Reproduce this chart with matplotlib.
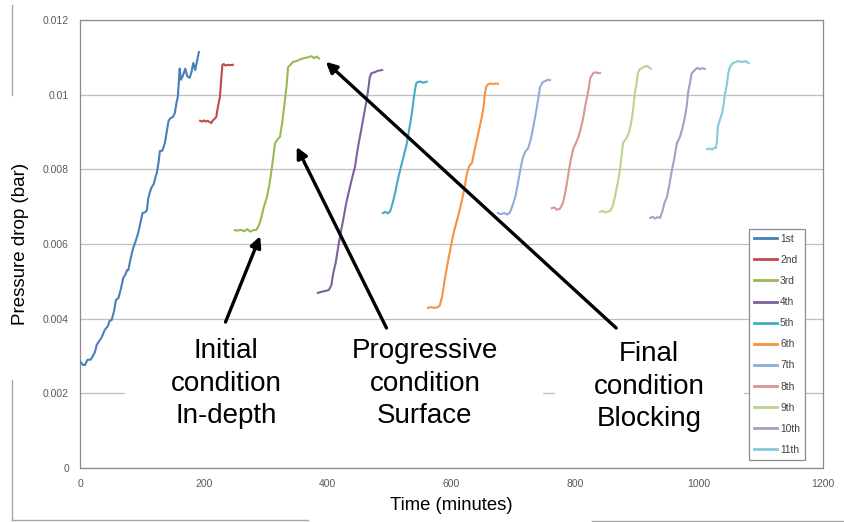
import matplotlib
matplotlib.use('Agg')
import matplotlib.pyplot as plt
from matplotlib.lines import Line2D
from matplotlib.patches import Rectangle

plt.rcParams['font.family'] = ['Liberation Sans', 'DejaVu Sans']

# ---- data (time in minutes, pressure drop in bar) ----
t1 = [0, 5, 8, 12, 17, 19, 24, 27, 31, 35, 40, 45, 48, 51, 55, 58, 62, 66,
      70, 73, 76, 78, 82, 86, 89, 94, 98, 101, 105, 108, 110, 113, 116, 119,
      122, 124, 127, 129, 133, 137, 140, 143, 146, 150, 153, 156, 158, 161,
      163, 166, 170, 173, 177, 180, 183, 186, 189, 192]
p1 = [0.00285, 0.00276, 0.00276, 0.0029, 0.0029, 0.00295, 0.0031, 0.0033,
      0.0034, 0.0035, 0.0037, 0.0038, 0.00395, 0.00396, 0.0042, 0.0045,
      0.00455, 0.0048, 0.0051, 0.00517, 0.0053, 0.0053, 0.00563, 0.0059,
      0.00603, 0.0063, 0.0066, 0.00683, 0.00685, 0.0069, 0.0072, 0.0074,
      0.00753, 0.0076, 0.0078, 0.0079, 0.0082, 0.00849, 0.0085, 0.0087,
      0.009, 0.0093, 0.00937, 0.0094, 0.0095, 0.0098, 0.00994, 0.0107,
      0.0104, 0.0105, 0.0107, 0.0105, 0.01045, 0.0106, 0.01085, 0.01066,
      0.0109, 0.01114]

t2 = [194, 197, 200, 203, 206, 209, 212, 214, 217, 220, 223, 226, 228, 230,
      232, 235, 239, 243, 247]
p2 = [0.0093, 0.00928, 0.00931, 0.00928, 0.0093, 0.00927, 0.00924, 0.0093,
      0.00935, 0.0094, 0.0097, 0.00994, 0.0104, 0.0108, 0.01082, 0.01078,
      0.0108, 0.01079, 0.0108]

t3 = [250, 255, 260, 265, 270, 275, 280, 285, 289, 293, 297, 302, 306, 310,
      315, 319, 323, 327, 331, 334, 336, 340, 344, 350, 356, 362, 368, 374,
      378, 382, 386]
p3 = [0.00637, 0.00636, 0.00638, 0.00634, 0.0064, 0.00633, 0.00637, 0.00638,
      0.0065, 0.00672, 0.007, 0.00726, 0.0076, 0.00806, 0.0087, 0.0088,
      0.00887, 0.0093, 0.00986, 0.0103, 0.01074, 0.0108, 0.01088, 0.0109,
      0.01095, 0.01098, 0.011, 0.01103, 0.01098, 0.01102, 0.01097]

t4 = [384, 390, 396, 402, 406, 409, 413, 417, 421, 425, 430, 436, 440, 444,
      449, 455, 459, 463, 466, 468, 471, 476, 481, 488]
p4 = [0.00469, 0.00472, 0.00474, 0.00477, 0.0049, 0.00522, 0.0055, 0.00592,
      0.0063, 0.00664, 0.0071, 0.00753, 0.0078, 0.00806, 0.0086, 0.00913,
      0.0095, 0.00986, 0.0102, 0.01047, 0.01058, 0.0106, 0.01064, 0.01066]

t5 = [489, 493, 497, 501, 505, 509, 513, 517, 522, 528, 532, 536, 539, 541,
      543, 545, 550, 555, 560]
p5 = [0.00683, 0.00686, 0.00682, 0.00688, 0.0071, 0.00737, 0.0077, 0.00798,
      0.0083, 0.0087, 0.0091, 0.0095, 0.0099, 0.01013, 0.0103, 0.01034,
      0.01035, 0.01032, 0.01035]

t6 = [562, 567, 572, 577, 581, 585, 589, 595, 601, 605, 609, 613, 617, 621,
      625, 629, 633, 637, 641, 645, 649, 652, 654, 656, 658, 662, 667, 671,
      675]
p6 = [0.00429, 0.00431, 0.00429, 0.0043, 0.00435, 0.0046, 0.00504, 0.0056,
      0.0061, 0.0064, 0.00664, 0.0069, 0.00718, 0.0075, 0.0079, 0.0081,
      0.00817, 0.0085, 0.00879, 0.0091, 0.0094, 0.0097, 0.01004, 0.0102,
      0.01026, 0.0103, 0.01028, 0.0103, 0.01029]

t7 = [675, 680, 685, 690, 694, 698, 703, 707, 711, 715, 719, 724, 728, 732,
      735, 738, 741, 743, 746, 748, 752, 756, 759]
p7 = [0.00683, 0.0068, 0.00683, 0.00679, 0.00684, 0.007, 0.00726, 0.0076,
      0.00798, 0.0083, 0.00847, 0.00857, 0.0088, 0.00913, 0.0094, 0.00967,
      0.01, 0.0102, 0.0103, 0.01034, 0.01037, 0.0104, 0.01039]

t8 = [762, 766, 770, 775, 780, 784, 788, 792, 797, 801, 805, 809, 813, 816,
      819, 822, 824, 827, 829, 833, 837, 840]
p8 = [0.00696, 0.00698, 0.00692, 0.00694, 0.0071, 0.0074, 0.0078, 0.0082,
      0.00857, 0.0087, 0.00887, 0.0091, 0.0094, 0.0097, 0.00994, 0.0102,
      0.01045, 0.01052, 0.01058, 0.0106, 0.01057, 0.01058]

t9 = [840, 844, 848, 852, 856, 860, 864, 868, 872, 875, 877, 880, 883, 887,
      891, 894, 896, 899, 901, 904, 908, 912, 916, 919, 922]
p9 = [0.00686, 0.00689, 0.00684, 0.00687, 0.00688, 0.007, 0.00726, 0.0076,
      0.00798, 0.0084, 0.0087, 0.00878, 0.00884, 0.009, 0.00932, 0.0097,
      0.01004, 0.0103, 0.01058, 0.01068, 0.01072, 0.01075, 0.01077, 0.01073,
      0.01069]

t10 = [921, 925, 929, 933, 937, 941, 944, 948, 952, 956, 960, 964, 967, 969,
       973, 977, 980, 982, 985, 988, 991, 993, 997, 1001, 1005, 1009]
p10 = [0.0067, 0.00673, 0.00668, 0.00672, 0.0067, 0.0069, 0.0071, 0.00726,
       0.0076, 0.00798, 0.0083, 0.0087, 0.0088, 0.00887, 0.0091, 0.0094,
       0.0097, 0.01004, 0.0103, 0.01058, 0.01062, 0.01066, 0.01072, 0.01068,
       0.01071, 0.01069]

t11 = [1013, 1017, 1021, 1024, 1027, 1029, 1030, 1033, 1037, 1040, 1042,
       1045, 1047, 1050, 1053, 1055, 1059, 1063, 1067, 1071, 1075, 1078, 1080]
p11 = [0.00854, 0.00856, 0.00853, 0.00857, 0.00857, 0.0088, 0.00913, 0.0093,
       0.0095, 0.0098, 0.01004, 0.0103, 0.01058, 0.01075, 0.01082, 0.01085,
       0.01087, 0.0109, 0.01088, 0.01088, 0.0109, 0.01086, 0.01085]

labels = ['1st', '2nd', '3rd', '4th', '5th', '6th', '7th', '8th', '9th',
          '10th', '11th']
times = [t1, t2, t3, t4, t5, t6, t7, t8, t9, t10, t11]
drops = [p1, p2, p3, p4, p5, p6, p7, p8, p9, p10, p11]
colors = ['#4A7EBB', '#BE4B48', '#98B954', '#7D60A0', '#46AAC5', '#F69240',
          '#8DAEDB', '#D99694', '#B8D48E', '#AC9BC8', '#86C8DC']

xticks = [0, 200, 400, 600, 800, 1000, 1200]
yticks = [0, 0.002, 0.004, 0.006, 0.008, 0.01, 0.012]
ytick_labels = ['0', '0.002', '0.004', '0.006', '0.008', '0.01', '0.012']

# (text, text position, arrow tail, arrow head)
notes = [
    ('Initial\ncondition\nIn-depth', (236, 0.00226), (235, 0.00391), (291, 0.00621)),
    ('Progressive\ncondition\nSurface', (557, 0.00226), (495, 0.00375), (350, 0.0086)),
    ('Final\ncondition\nBlocking', (919, 0.00218), (866, 0.00375), (397, 0.01088)),
]


def main():
    fig = plt.figure(figsize=(8.44, 5.22), dpi=100)
    ax = fig.add_axes([0.0948, 0.1034, 0.8803, 0.8583])

    for t, p, c, lab in zip(times, drops, colors, labels):
        ax.plot(t, p, color=c, lw=1.5, label=lab, zorder=3)

    ax.set_xlim(0, 1200)
    ax.set_ylim(0, 0.012)
    ax.set_xticks(xticks)
    ax.set_yticks(yticks)
    ax.set_yticklabels(ytick_labels)
    ax.tick_params(length=0, pad=8, labelsize=7.5, labelcolor='#595959')
    ax.grid(axis='y', color='#bfbfbf', lw=0.9, zorder=0)
    ax.set_axisbelow(True)
    for s in ax.spines.values():
        s.set_color('#8c8c8c')
        s.set_linewidth(0.9)

    ax.set_xlabel('Time (minutes)', fontsize=13.3, labelpad=6)
    ax.set_ylabel('Pressure drop (bar)', fontsize=13.5, labelpad=10)

    # white boxes behind the big labels (hide the grid line)
    for x0, x1 in [(0.0606, 0.3324), (0.3324, 0.6231), (0.6393, 0.8937)]:
        ax.add_patch(Rectangle((x0, 0.085), x1 - x0, 0.234,
                               transform=ax.transAxes, facecolor='white',
                               edgecolor='none', zorder=1))

    for txt, pos, tail, head in notes:
        ax.text(pos[0], pos[1], txt, ha='center', va='center', fontsize=20,
                linespacing=1.32, zorder=4)
        ax.annotate('', xy=head, xytext=tail,
                    arrowprops=dict(arrowstyle='-|>', lw=2.4, color='black',
                                    mutation_scale=16, shrinkA=0, shrinkB=0),
                    zorder=5)

    leg = ax.legend(loc='lower left', bbox_to_anchor=(0.900, 0.018),
                    fontsize=7.4, handlelength=2.3, handletextpad=0.25,
                    labelspacing=1.08, borderpad=0.5, fancybox=False,
                    framealpha=1, edgecolor='#8c8c8c', borderaxespad=0)
    leg.get_frame().set_linewidth(0.9)
    for line in leg.get_lines():
        line.set_linewidth(2)
    for text in leg.get_texts():
        text.set_color('#404040')

    # stray border lines around the pasted chart
    gray = '#a6a6a6'
    fig.add_artist(Line2D([0.0142, 0.0142], [0.990, 0.818], color=gray, lw=1))
    fig.add_artist(Line2D([0.0142, 0.0142], [0.272, 0.004], color=gray, lw=1))
    fig.add_artist(Line2D([0.0142, 0.365], [0.004, 0.004], color=gray, lw=1))
    fig.add_artist(Line2D([0.701, 1.0], [0.002, 0.002], color=gray, lw=1))

    fig.savefig('out.png', dpi=100)


if __name__ == '__main__':
    main()
